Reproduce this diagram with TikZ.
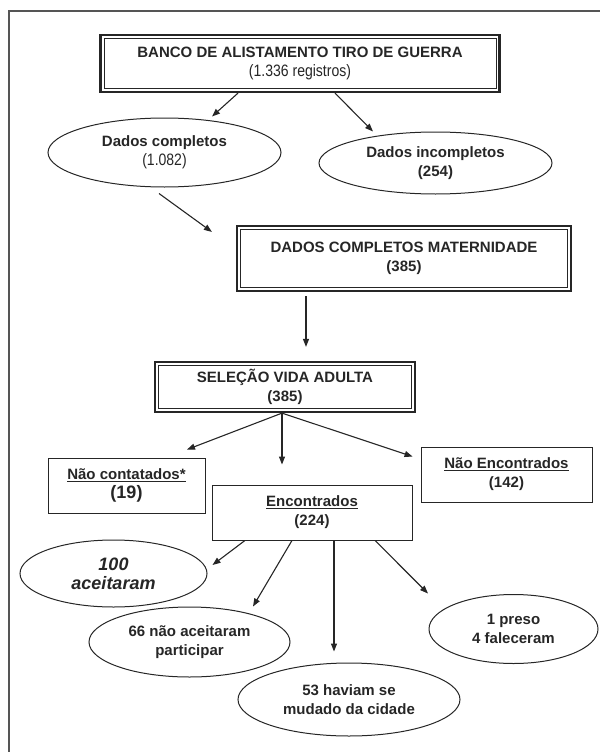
\documentclass[tikz,border=0pt]{standalone}
\usepackage{fontspec}
\setmainfont{Liberation Sans}
\newfontfamily\narrowfont[FakeStretch=0.85]{Liberation Sans}
\usepackage{tikz}
\usetikzlibrary{arrows.meta,shapes.geometric}
\definecolor{flowink}{HTML}{262626}
\definecolor{framegray}{HTML}{555555}
\tikzset{
  flowtext/.style={font=\fontsize{15}{19}\selectfont\bfseries, text=flowink, align=center},
  plainbox/.style={flowtext, draw=flowink, line width=0.9pt, inner sep=0pt},
  doublebox/.style={flowtext, draw=flowink, line width=2.2pt, inner sep=0pt,
    path picture={\draw[flowink, line width=0.8pt]
      ([shift={(3.5pt,-3.5pt)}]path picture bounding box.north west) rectangle
      ([shift={(-3.5pt,3.5pt)}]path picture bounding box.south east);}},
  ovalbox/.style={flowtext, ellipse, draw=flowink, line width=1pt, inner sep=0pt},
  flowarrow/.style={draw=flowink, line width=1.1pt, -{Triangle[length=8pt,width=6pt]}}
}

\begin{document}
\begin{tikzpicture}[x=1pt,y=-1pt]
  \useasboundingbox (0,0) rectangle (600,752);
  \draw[framegray, line width=1.5pt] (9,752) -- (9,11) -- (600,11);

  % registros do tiro de guerra
  \node[doublebox, minimum width=399pt, minimum height=57pt] (banco) at (300,63.5)
    {BANCO DE ALISTAMENTO TIRO DE GUERRA\\{\narrowfont\mdseries\fontsize{16.5}{20}\selectfont (1.336 registros)}};
  \node[ovalbox, minimum width=233pt, minimum height=69pt] (completos) at (164.5,152.5)
    {Dados completos\\{\narrowfont\mdseries\fontsize{16.5}{20}\selectfont (1.082)}};
  \node[ovalbox, minimum width=233pt, minimum height=62pt] (incompletos) at (435.5,163)
    {Dados incompletos\\(254)};

  % maternidade e vida adulta
  \node[doublebox, minimum width=334pt, minimum height=65pt] (maternidade) at (404,258.5)
    {DADOS COMPLETOS MATERNIDADE\\(385)};
  \node[doublebox, minimum width=260pt, minimum height=50pt] (selecao) at (285,387)
    {SELEÇÃO VIDA ADULTA\\(385)};

  \node[plainbox, minimum width=157pt, minimum height=55pt] (naocont) at (126.5,485.5)
    {\underline{Não contatados*}\\{\fontsize{18}{20}\selectfont (19)}};
  \node[plainbox, minimum width=200pt, minimum height=55pt] (encontrados) at (312,512.5)
    {\underline{Encontrados}\\(224)};
  \node[plainbox, minimum width=171pt, minimum height=55pt] (naoenc) at (506.5,474.5)
    {\underline{Não Encontrados}\\(142)};

  % desfechos dos encontrados
  \node[ovalbox, minimum width=187pt, minimum height=67pt,
    font=\fontsize{18}{19}\selectfont\bfseries\itshape] (aceitaram) at (113.5,573.5)
    {100\\aceitaram};
  \node[ovalbox, minimum width=201pt, minimum height=70pt] (naoaceit) at (189.5,642)
    {66 não aceitaram\\participar};
  \node[ovalbox, minimum width=222pt, minimum height=73pt] (mudado) at (349,699.5)
    {53 haviam se\\mudado da cidade};
  \node[ovalbox, minimum width=169pt, minimum height=69pt] (preso) at (513.5,629)
    {1 preso\\4 faleceram};

  \draw[flowarrow] ([xshift=-62pt]banco.south) -- ([xshift=47.5pt,yshift=1pt]completos.north);
  \draw[flowarrow] ([xshift=35pt]banco.south) -- ([xshift=-62.5pt]incompletos.north);
  \draw[flowarrow] ([xshift=-5.5pt,yshift=-6pt]completos.south) -- ([xshift=-24pt,yshift=-7pt]maternidade.north west);
  \draw[flowarrow] ([xshift=-98pt,yshift=-4pt]maternidade.south) -- ([xshift=21pt,yshift=14pt]selecao.north);

  \draw[flowarrow] ([xshift=-3pt]selecao.south) -- ([xshift=60.5pt,yshift=8pt]naocont.north);
  \draw[flowarrow] ([xshift=-3pt]selecao.south) -- ([xshift=-30pt,yshift=20pt]encontrados.north);
  \draw[flowarrow] ([xshift=-3pt]selecao.south) -- ([xshift=-8pt,yshift=-10pt]naoenc.north west);

  \draw[flowarrow] ([xshift=-67pt]encontrados.south) -- ([xshift=5pt,yshift=8.5pt]aceitaram.east);
  \draw[flowarrow] ([xshift=-20pt]encontrados.south) -- ([xshift=63.5pt]naoaceit.north);
  \draw[flowarrow] ([xshift=22pt]encontrados.south) -- ([xshift=-15pt,yshift=11pt]mudado.north);
  \draw[flowarrow] ([xshift=63pt]encontrados.south) -- ([xshift=-85.5pt,yshift=0.5pt]preso.north);
\end{tikzpicture}
\end{document}
